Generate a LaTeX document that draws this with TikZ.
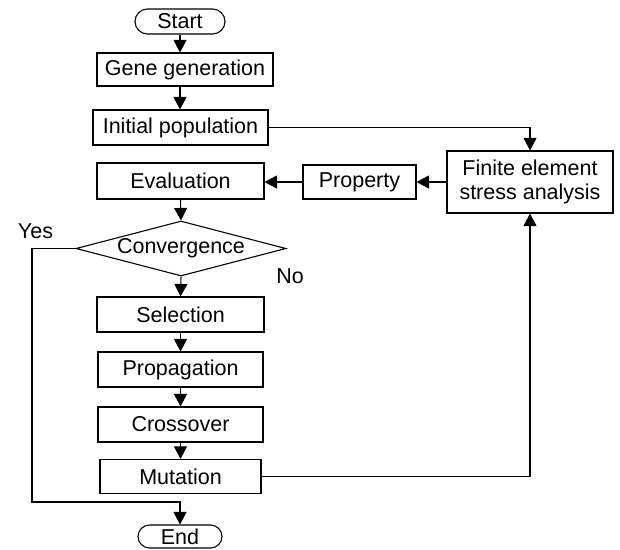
\documentclass[tikz,border=0pt]{standalone}
\usepackage{fontspec}
\setmainfont{Liberation Sans}
\usetikzlibrary{arrows.meta,shapes.geometric,shapes.misc}
\begin{document}
\begin{tikzpicture}[x=1pt,y=-1pt,
  every node/.style={font=\fontsize{21.5}{24}\selectfont, inner sep=0pt},
  boxnode/.style={draw, line width=1.1pt, rectangle},
  pill/.style={draw, line width=1.1pt, rounded rectangle},
  decision/.style={draw, line width=1.1pt, diamond, shape aspect=3.8},
  conn/.style={line width=1.1pt},
  arr/.style={conn, -{Triangle[length=12.5pt,width=13pt]}},
  lbl/.style={}
]
\useasboundingbox (0,0) rectangle (620,549);
\node[pill, minimum width=90pt, minimum height=25pt] (start) at (180,21.5) {Start};
\node[boxnode, minimum width=176pt, minimum height=33pt] (gene) at (185,69.5) {Gene generation};
\node[boxnode, minimum width=175pt, minimum height=35pt] (init) at (180.5,127.5) {Initial population};
\node[boxnode, minimum width=167pt, minimum height=36pt] (eval) at (180.5,181) {Evaluation};
\node[boxnode, minimum width=113pt, minimum height=34pt] (prop) at (359.5,182) {Property};
\node[boxnode, minimum width=166pt, minimum height=62pt, align=center] (fe) at (530,182) {Finite element\\stress analysis};
\node[decision, minimum width=210pt, minimum height=55pt] (conv) at (181,248.5) {Convergence};
\node[boxnode, minimum width=167pt, minimum height=35pt] (sel) at (180.5,314.5) {Selection};
\node[boxnode, minimum width=165pt, minimum height=35pt] (propag) at (180.5,369.5) {Propagation};
\node[boxnode, minimum width=165pt, minimum height=35pt] (cross) at (180.5,424.5) {Crossover};
\node[boxnode, minimum width=161pt, minimum height=34pt] (mut) at (180.5,476.5) {Mutation};
\node[pill, minimum width=84pt, minimum height=23pt] (end) at (180,536.5) {End};
\node[lbl] (yes) at (35.5,231) {Yes};
\node[lbl] (no) at (290,276.5) {No};
\coordinate (yesA) at (32,248.5);
\coordinate (yesB) at (32,502);
\coordinate (yesC) at (180,502);

\draw[arr] (start.south) -- (start.south |- gene.north);
\draw[arr] (start.south |- gene.south) -- (start.south |- init.north);
\draw[arr] (init.east) -| (fe.north);
\draw[arr] (fe.west) -- (prop.east);
\draw[arr] (prop.west) -- (prop.west -| eval.east);
\draw[arr] (eval.south) -- (conv.north);
\draw[arr] (conv.south) -- (sel.north);
\draw[arr] (sel.south) -- (propag.north);
\draw[arr] (propag.south) -- (cross.north);
\draw[arr] (cross.south) -- (mut.north);
\draw[arr] (mut.east) -| (fe.south);
\draw[arr] (conv.west) -- (yesA) -- (yesB) -- (yesC) -- (end.north);
\end{tikzpicture}
\end{document}
